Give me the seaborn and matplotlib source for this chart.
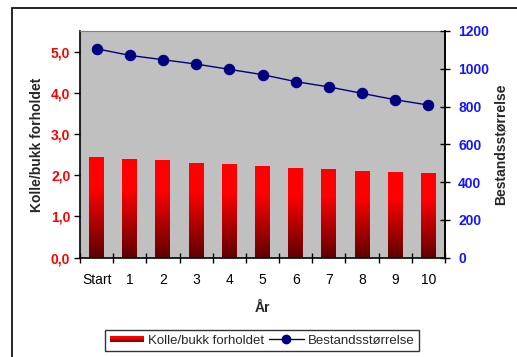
import numpy as np
import pandas as pd
import matplotlib
matplotlib.use("Agg")
import matplotlib.pyplot as plt
import seaborn as sns
from matplotlib.patches import Rectangle
from matplotlib.lines import Line2D
from matplotlib.legend_handler import HandlerBase
from matplotlib.colors import LinearSegmentedColormap
from matplotlib.ticker import FixedLocator, FuncFormatter

# Data
years = ["Start", "1", "2", "3", "4", "5", "6", "7", "8", "9", "10"]
ratio = [2.45, 2.40, 2.37, 2.30, 2.27, 2.23, 2.18, 2.15, 2.10, 2.08, 2.06]
population = [1106, 1071, 1048, 1025, 997, 969, 932, 904, 870, 836, 808]
left_ticks = [0, 1, 2, 3, 4, 5]
right_ticks = [0, 200, 400, 600, 800, 1000, 1200]

sns.set_theme(style="white")
plt.rcParams["font.family"] = ["Liberation Sans", "DejaVu Sans"]

W, H = 517, 357
fig = plt.figure(figsize=(W / 100, H / 100), dpi=100)
fig.patch.set_facecolor("white")

# outer chart frame (open at right/bottom)
frame = Rectangle((12 / W, -0.05), 1.2, (H - 8) / H + 0.05, transform=fig.transFigure,
                  fill=False, edgecolor="black", linewidth=1.2)
fig.add_artist(frame)

left, right, top, bottom = 80, 445, 31, 257.7
ax = fig.add_axes([left / W, (H - bottom) / H, (right - left) / W, (bottom - top) / H])
ax.set_facecolor("#C0C0C0")

df = pd.DataFrame({"year": years, "ratio": ratio, "pop": population})
sns.barplot(data=df, x="year", y="ratio", ax=ax, width=0.45, color="red",
            saturation=1, edgecolor="none")

# vertical red gradient inside each bar
grad_cmap = LinearSegmentedColormap.from_list(
    "bargrad", [(0.0, "#5E0000"), (0.70, "#FF0000"), (1.0, "#FF0000")])
grad = np.linspace(0, 1, 256).reshape(-1, 1)
for p in ax.patches:
    x0, y0 = p.get_x(), p.get_y()
    w, h = p.get_width(), p.get_height()
    im = ax.imshow(grad, cmap=grad_cmap, origin="lower", aspect="auto",
                   extent=(x0, x0 + w, y0, y0 + h), zorder=2)
    im.set_clip_path(p)
    p.set_facecolor("none")

ax.set_xlim(-0.5, 10.5)
ax.set_ylim(0, 5.5)
ax.yaxis.set_major_locator(FixedLocator(left_ticks))
ax.yaxis.set_major_formatter(FuncFormatter(lambda v, _: f"{v:.1f}".replace(".", ",")))
ax.tick_params(axis="y", colors="black", labelcolor="red", labelsize=10,
               direction="out", length=4, width=1, left=True, pad=3)
for t in ax.get_yticklabels():
    t.set_fontweight("bold")

ax.set_xticks(range(len(years)))
ax.set_xticklabels(years)
ax.xaxis.set_minor_locator(FixedLocator(np.arange(-0.5, 11, 1.0)))
ax.tick_params(axis="x", which="major", length=0, labelsize=10, labelcolor="black", pad=11)
ax.tick_params(axis="x", which="minor", direction="inout", length=7, width=1,
               bottom=True, color="black")

ax.set_xlabel("År", fontsize=10, fontweight="bold", labelpad=10)
ax.set_ylabel("Kolle/bukk forholdet", fontsize=10, fontweight="bold", labelpad=5)

for s in ["left", "bottom", "right"]:
    ax.spines[s].set_color("black")
    ax.spines[s].set_linewidth(1.2)
ax.spines["top"].set_color("#808080")
ax.spines["top"].set_linewidth(0.8)

ax2 = ax.twinx()
sns.lineplot(x=np.arange(len(years)), y=population, ax=ax2, color="#000080",
             marker="o", markersize=7.5, markeredgecolor="#000080", linewidth=1.0)
ax2.set_ylim(0, 1200)
ax2.yaxis.set_major_locator(FixedLocator(right_ticks))
ax2.tick_params(axis="y", right=True, direction="inout", length=7, width=1,
                colors="black", labelcolor="#1515FF", labelsize=10, pad=6)
for t in ax2.get_yticklabels():
    t.set_fontweight("bold")
ax2.set_ylabel("Bestandsstørrelse", fontsize=10, fontweight="bold", labelpad=3)
for s in ["left", "bottom", "top"]:
    ax2.spines[s].set_visible(False)
ax2.spines["right"].set_color("black")
ax2.spines["right"].set_linewidth(1.2)
ax2.grid(False)
ax.grid(False)


class GradientHandler(HandlerBase):
    """Legend swatch painted as a stack of thin strips, bright on top, dark below."""

    def create_artists(self, legend, orig_handle, xdescent, ydescent, width, height,
                       fontsize, trans):
        n = 16
        sh = height * 0.75
        y_base = -ydescent + (height - sh) / 2
        arts = []
        for i in range(n):
            frac = (i + 0.5) / n  # 0 at bottom, 1 at top
            r = Rectangle((-xdescent, y_base + sh * i / n), width, sh / n + 0.02,
                          facecolor=grad_cmap(frac), edgecolor="none",
                          transform=trans)
            arts.append(r)
        return arts


bar_handle = Rectangle((0, 0), 1, 1, facecolor="red")
line_handle = Line2D([], [], color="#000080", marker="o", markersize=6, linewidth=1.0)
leg = fig.legend([bar_handle, line_handle], ["Kolle/bukk forholdet", "Bestandsstørrelse"],
                 handler_map={Rectangle: GradientHandler()},
                 loc="center", bbox_to_anchor=(262 / W, (H - 340.5) / H), ncol=2,
                 frameon=True, fancybox=False, fontsize=9.5, handlelength=2.6,
                 handletextpad=0.3, columnspacing=0.4, borderpad=0.35)
leg.get_frame().set_edgecolor("black")
leg.get_frame().set_linewidth(1.0)

fig.savefig("out.png", dpi=100)
